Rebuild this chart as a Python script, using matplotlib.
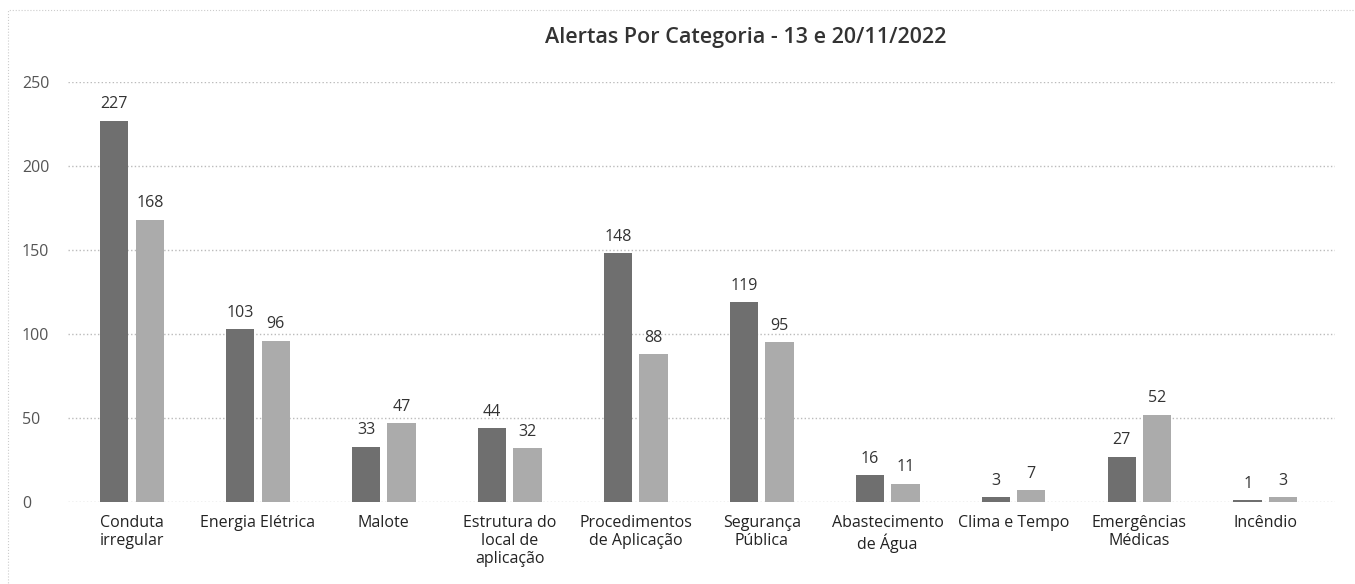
import matplotlib.pyplot as plt
import numpy as np

plt.rcParams['font.family'] = ['Open Sans', 'DejaVu Sans']

categorias = ['Conduta\nirregular', 'Energia Elétrica', 'Malote', 'Estrutura do\nlocal de\naplicação',
              'Procedimentos\nde Aplicação', 'Segurança\nPública', 'Abastecimento\nde Água',
              'Clima e Tempo', 'Emergências\nMédicas', 'Incêndio']
dia13 = [227, 103, 33, 44, 148, 119, 16, 3, 27, 1]
dia20 = [168, 96, 47, 32, 88, 95, 11, 7, 52, 3]

x = np.arange(len(categorias))
w = 0.225
off = 0.141

fig = plt.figure(figsize=(13.55, 5.84), dpi=100)
ax = fig.add_axes([0.050, 0.1404, 0.935, 0.7192])

b1 = ax.bar(x - off, dia13, w, color='#6f6f6f', zorder=3)
b2 = ax.bar(x + off, dia20, w, color='#ababab', zorder=3)

for bars, vals in [(b1, dia13), (b2, dia20)]:
    for b, v in zip(bars, vals):
        ax.text(b.get_x() + b.get_width() / 2, v + 5, str(v), ha='center', va='bottom',
                fontsize=11.5, color='#333333')

ax.set_xlim(-0.51, 9.55)
ax.set_ylim(0, 250)
ax.set_yticks([0, 50, 100, 150, 200, 250])
ax.set_xticks(x)
ax.set_xticklabels(categorias, fontsize=11.5, color='#222222', linespacing=1.2)
ax.tick_params(axis='y', labelsize=11.5, labelcolor='#555555', length=0, pad=33)
ax.tick_params(axis='x', length=0, pad=9)
for t in ax.get_yticklabels():
    t.set_horizontalalignment('left')
ax.grid(axis='y', color='#bbbbbb', linestyle=':', linewidth=1, zorder=0)
for s in ax.spines.values():
    s.set_visible(False)

fig.text(0.55, 0.935, 'Alertas Por Categoria - 13 e 20/11/2022', ha='center', va='center',
         fontsize=15.5, fontweight='semibold', color='#333333')

borda = plt.Rectangle((0.006, -0.1), 1.2, 1.083, transform=fig.transFigure, fill=False,
                      edgecolor='#cccccc', linestyle=':', linewidth=0.8)
fig.patches.append(borda)

fig.savefig('out.png', dpi=100)
